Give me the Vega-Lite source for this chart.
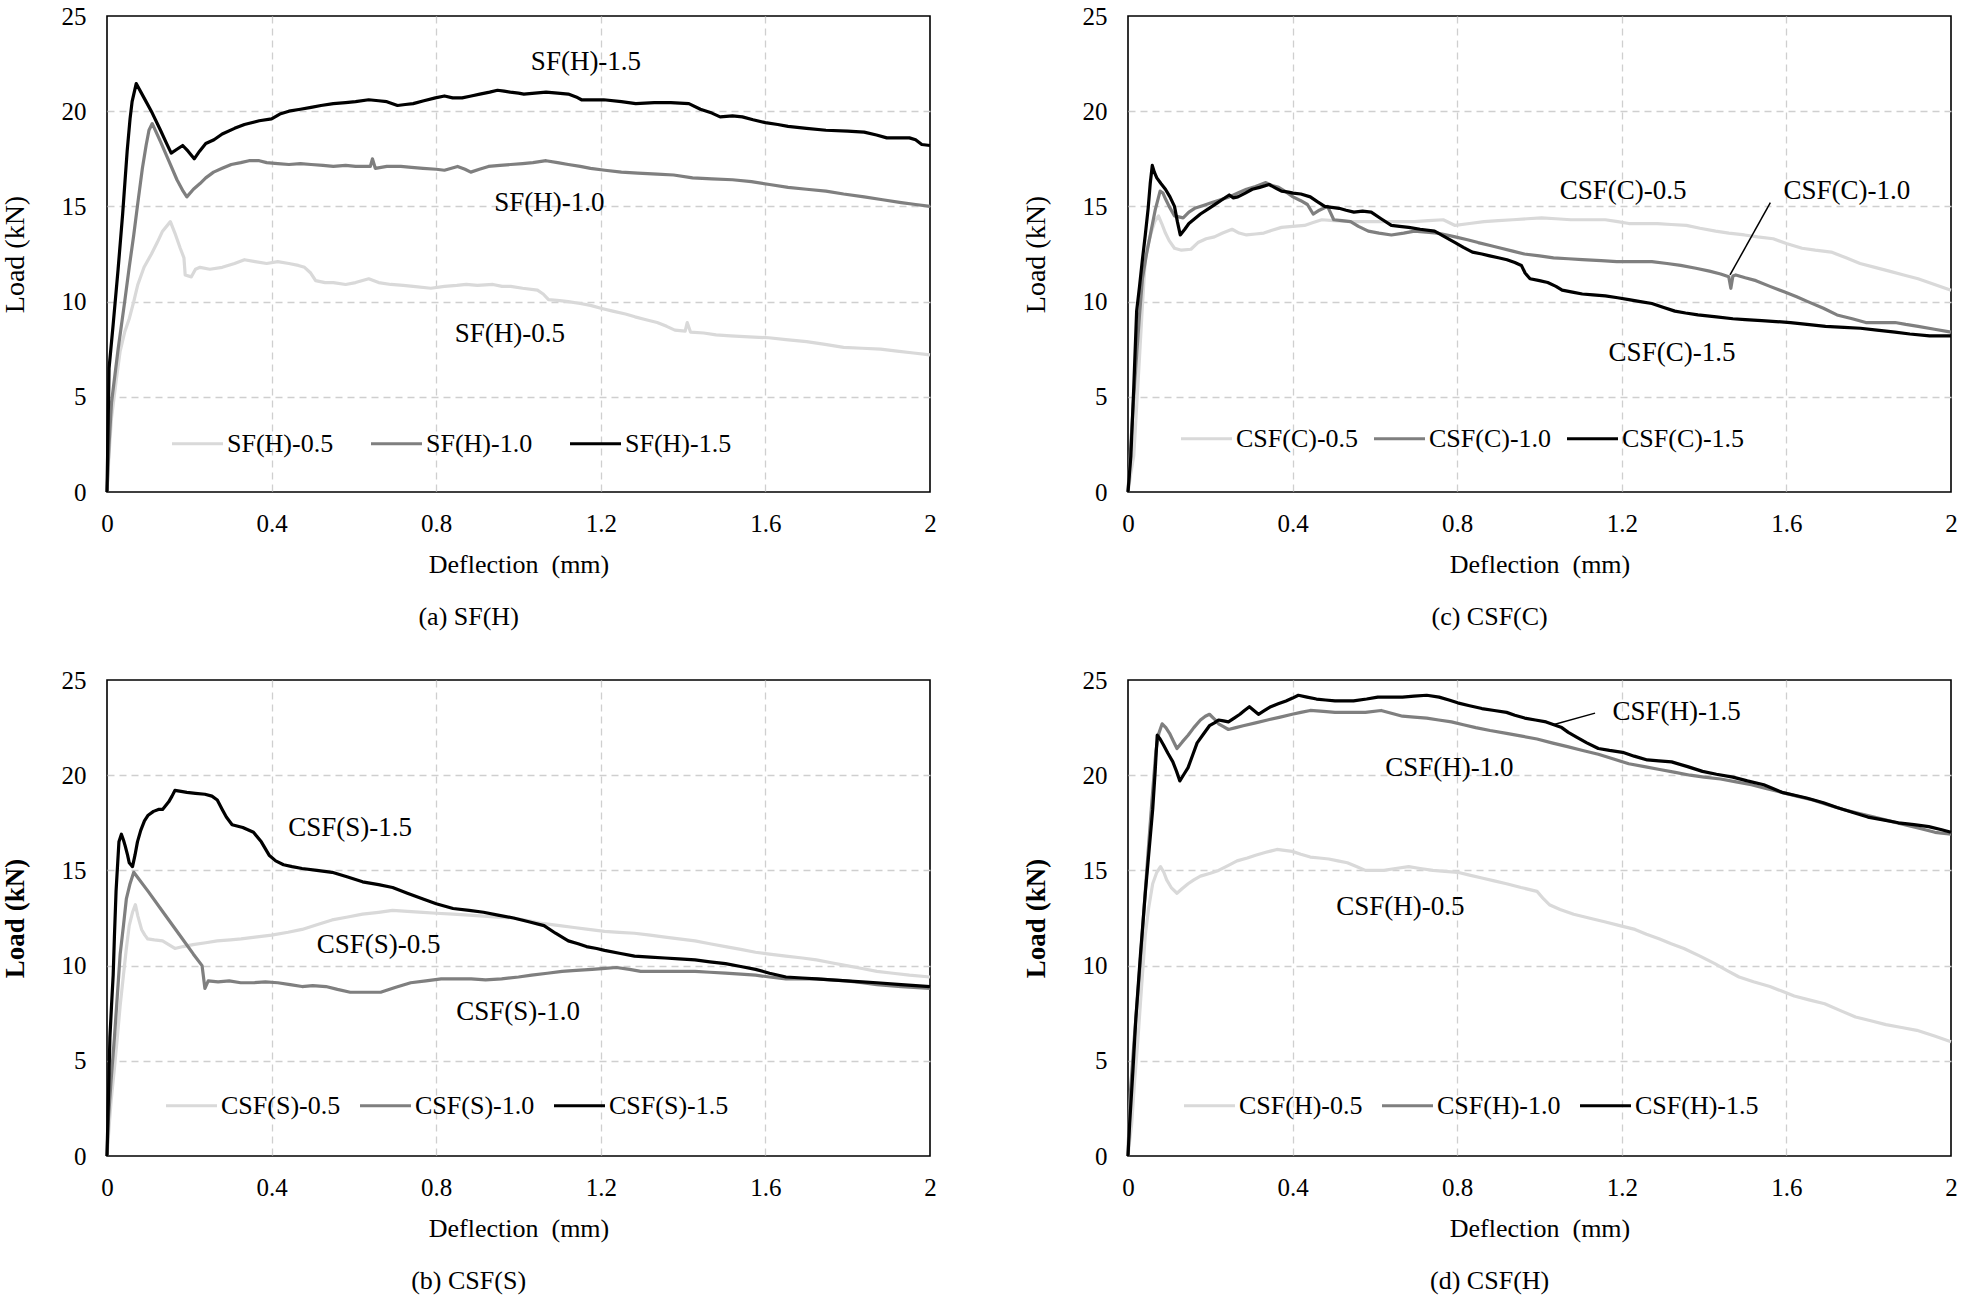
{
"$schema": "https://vega.github.io/schema/vega-lite/v6.json",
"background": "white",
"padding": {"left": 0, "top": 3, "right": 4, "bottom": 0},
"config": {
  "font": "Liberation Serif",
  "view": {"stroke": "#000000", "strokeWidth": 1.6},
  "axis": {"labelFont": "Liberation Serif", "labelFontSize": 25, "labelColor": "#000000", "labelFlush": false, "titleFont": "Liberation Serif", "titleFontSize": 26, "titleFontWeight": "normal", "titleColor": "#000000", "domain": false, "ticks": false, "tickSize": 0, "gridDash": [7, 5], "gridWidth": 1.3},
  "legend": {"orient": "none", "direction": "horizontal", "symbolType": "stroke", "symbolSize": 2600, "symbolStrokeWidth": 4, "labelFont": "Liberation Serif", "labelFontSize": 26, "labelColor": "#000000", "labelOffset": 2, "padding": 0, "offset": 0},
  "title": {"font": "Liberation Serif", "fontSize": 26, "fontWeight": "normal", "color": "#000000"}
},
"datasets": {
"a": [
{"s":"0.5","x":0,"y":0},{"s":"0.5","x":0.005,"y":2.0},{"s":"0.5","x":0.011,"y":3.9},{"s":"0.5","x":0.022,"y":5.8},{"s":"0.5","x":0.032,"y":7.4},{"s":"0.5","x":0.043,"y":8.4},{"s":"0.5","x":0.054,"y":9.1},{"s":"0.5","x":0.065,"y":10.0},{"s":"0.5","x":0.075,"y":10.9},{"s":"0.5","x":0.09,"y":11.8},{"s":"0.5","x":0.108,"y":12.5},{"s":"0.5","x":0.122,"y":13.1},{"s":"0.5","x":0.135,"y":13.7},{"s":"0.5","x":0.154,"y":14.2},{"s":"0.5","x":0.165,"y":13.6},{"s":"0.5","x":0.178,"y":12.8},{"s":"0.5","x":0.187,"y":12.3},{"s":"0.5","x":0.19,"y":11.4},{"s":"0.5","x":0.205,"y":11.3},{"s":"0.5","x":0.215,"y":11.7},{"s":"0.5","x":0.226,"y":11.8},{"s":"0.5","x":0.25,"y":11.7},{"s":"0.5","x":0.28,"y":11.8},{"s":"0.5","x":0.31,"y":12.0},{"s":"0.5","x":0.334,"y":12.2},{"s":"0.5","x":0.36,"y":12.1},{"s":"0.5","x":0.388,"y":12.0},{"s":"0.5","x":0.415,"y":12.1},{"s":"0.5","x":0.442,"y":12.0},{"s":"0.5","x":0.465,"y":11.9},{"s":"0.5","x":0.48,"y":11.8},{"s":"0.5","x":0.495,"y":11.5},{"s":"0.5","x":0.507,"y":11.1},{"s":"0.5","x":0.53,"y":11.0},{"s":"0.5","x":0.55,"y":11.0},{"s":"0.5","x":0.58,"y":10.9},{"s":"0.5","x":0.604,"y":11.0},{"s":"0.5","x":0.636,"y":11.2},{"s":"0.5","x":0.66,"y":11.0},{"s":"0.5","x":0.69,"y":10.9},{"s":"0.5","x":0.72,"y":10.85},{"s":"0.5","x":0.744,"y":10.8},{"s":"0.5","x":0.787,"y":10.7},{"s":"0.5","x":0.82,"y":10.8},{"s":"0.5","x":0.85,"y":10.85},{"s":"0.5","x":0.873,"y":10.9},{"s":"0.5","x":0.9,"y":10.85},{"s":"0.5","x":0.938,"y":10.9},{"s":"0.5","x":0.96,"y":10.8},{"s":"0.5","x":0.981,"y":10.8},{"s":"0.5","x":1.01,"y":10.7},{"s":"0.5","x":1.046,"y":10.6},{"s":"0.5","x":1.06,"y":10.4},{"s":"0.5","x":1.073,"y":10.1},{"s":"0.5","x":1.1,"y":10.05},{"s":"0.5","x":1.121,"y":10.0},{"s":"0.5","x":1.15,"y":9.9},{"s":"0.5","x":1.175,"y":9.8},{"s":"0.5","x":1.2,"y":9.65},{"s":"0.5","x":1.229,"y":9.5},{"s":"0.5","x":1.26,"y":9.35},{"s":"0.5","x":1.283,"y":9.2},{"s":"0.5","x":1.31,"y":9.05},{"s":"0.5","x":1.337,"y":8.9},{"s":"0.5","x":1.36,"y":8.7},{"s":"0.5","x":1.38,"y":8.5},{"s":"0.5","x":1.405,"y":8.45},{"s":"0.5","x":1.41,"y":8.9},{"s":"0.5","x":1.418,"y":8.4},{"s":"0.5","x":1.45,"y":8.35},{"s":"0.5","x":1.48,"y":8.25},{"s":"0.5","x":1.515,"y":8.2},{"s":"0.5","x":1.56,"y":8.15},{"s":"0.5","x":1.608,"y":8.1},{"s":"0.5","x":1.65,"y":8.0},{"s":"0.5","x":1.7,"y":7.9},{"s":"0.5","x":1.745,"y":7.75},{"s":"0.5","x":1.79,"y":7.6},{"s":"0.5","x":1.835,"y":7.55},{"s":"0.5","x":1.88,"y":7.5},{"s":"0.5","x":1.92,"y":7.4},{"s":"0.5","x":1.96,"y":7.3},{"s":"0.5","x":2.0,"y":7.2},
{"s":"1.0","x":0,"y":0},{"s":"1.0","x":0.005,"y":2.5},{"s":"1.0","x":0.011,"y":4.7},{"s":"1.0","x":0.027,"y":7.5},{"s":"1.0","x":0.043,"y":10.0},{"s":"1.0","x":0.054,"y":11.8},{"s":"1.0","x":0.065,"y":13.5},{"s":"1.0","x":0.075,"y":15.2},{"s":"1.0","x":0.086,"y":17.0},{"s":"1.0","x":0.095,"y":18.2},{"s":"1.0","x":0.102,"y":19.0},{"s":"1.0","x":0.11,"y":19.35},{"s":"1.0","x":0.13,"y":18.4},{"s":"1.0","x":0.15,"y":17.4},{"s":"1.0","x":0.17,"y":16.4},{"s":"1.0","x":0.185,"y":15.8},{"s":"1.0","x":0.194,"y":15.5},{"s":"1.0","x":0.21,"y":15.9},{"s":"1.0","x":0.226,"y":16.2},{"s":"1.0","x":0.24,"y":16.5},{"s":"1.0","x":0.259,"y":16.8},{"s":"1.0","x":0.28,"y":17.0},{"s":"1.0","x":0.302,"y":17.2},{"s":"1.0","x":0.325,"y":17.3},{"s":"1.0","x":0.345,"y":17.4},{"s":"1.0","x":0.37,"y":17.4},{"s":"1.0","x":0.388,"y":17.3},{"s":"1.0","x":0.415,"y":17.25},{"s":"1.0","x":0.442,"y":17.2},{"s":"1.0","x":0.47,"y":17.25},{"s":"1.0","x":0.496,"y":17.2},{"s":"1.0","x":0.525,"y":17.15},{"s":"1.0","x":0.55,"y":17.1},{"s":"1.0","x":0.58,"y":17.15},{"s":"1.0","x":0.604,"y":17.1},{"s":"1.0","x":0.64,"y":17.1},{"s":"1.0","x":0.645,"y":17.5},{"s":"1.0","x":0.652,"y":17.0},{"s":"1.0","x":0.68,"y":17.1},{"s":"1.0","x":0.714,"y":17.1},{"s":"1.0","x":0.74,"y":17.05},{"s":"1.0","x":0.768,"y":17.0},{"s":"1.0","x":0.8,"y":16.95},{"s":"1.0","x":0.82,"y":16.9},{"s":"1.0","x":0.852,"y":17.1},{"s":"1.0","x":0.87,"y":16.95},{"s":"1.0","x":0.884,"y":16.8},{"s":"1.0","x":0.905,"y":16.95},{"s":"1.0","x":0.927,"y":17.1},{"s":"1.0","x":0.955,"y":17.15},{"s":"1.0","x":0.981,"y":17.2},{"s":"1.0","x":1.01,"y":17.25},{"s":"1.0","x":1.035,"y":17.3},{"s":"1.0","x":1.067,"y":17.4},{"s":"1.0","x":1.095,"y":17.3},{"s":"1.0","x":1.121,"y":17.2},{"s":"1.0","x":1.15,"y":17.1},{"s":"1.0","x":1.175,"y":17.0},{"s":"1.0","x":1.21,"y":16.9},{"s":"1.0","x":1.25,"y":16.8},{"s":"1.0","x":1.29,"y":16.75},{"s":"1.0","x":1.337,"y":16.7},{"s":"1.0","x":1.377,"y":16.65},{"s":"1.0","x":1.423,"y":16.5},{"s":"1.0","x":1.47,"y":16.45},{"s":"1.0","x":1.52,"y":16.4},{"s":"1.0","x":1.566,"y":16.3},{"s":"1.0","x":1.61,"y":16.15},{"s":"1.0","x":1.655,"y":16.0},{"s":"1.0","x":1.7,"y":15.9},{"s":"1.0","x":1.747,"y":15.8},{"s":"1.0","x":1.79,"y":15.65},{"s":"1.0","x":1.84,"y":15.5},{"s":"1.0","x":1.885,"y":15.35},{"s":"1.0","x":1.93,"y":15.2},{"s":"1.0","x":1.965,"y":15.1},{"s":"1.0","x":2.0,"y":15.0},
{"s":"1.5","x":0,"y":0},{"s":"1.5","x":0.005,"y":6.5},{"s":"1.5","x":0.015,"y":8.8},{"s":"1.5","x":0.027,"y":11.7},{"s":"1.5","x":0.038,"y":14.6},{"s":"1.5","x":0.049,"y":17.9},{"s":"1.5","x":0.056,"y":19.6},{"s":"1.5","x":0.061,"y":20.5},{"s":"1.5","x":0.071,"y":21.45},{"s":"1.5","x":0.09,"y":20.7},{"s":"1.5","x":0.11,"y":19.9},{"s":"1.5","x":0.13,"y":19.0},{"s":"1.5","x":0.145,"y":18.3},{"s":"1.5","x":0.156,"y":17.8},{"s":"1.5","x":0.17,"y":18.0},{"s":"1.5","x":0.184,"y":18.2},{"s":"1.5","x":0.197,"y":17.9},{"s":"1.5","x":0.212,"y":17.5},{"s":"1.5","x":0.225,"y":17.9},{"s":"1.5","x":0.24,"y":18.3},{"s":"1.5","x":0.26,"y":18.5},{"s":"1.5","x":0.28,"y":18.8},{"s":"1.5","x":0.31,"y":19.1},{"s":"1.5","x":0.334,"y":19.3},{"s":"1.5","x":0.37,"y":19.5},{"s":"1.5","x":0.4,"y":19.6},{"s":"1.5","x":0.42,"y":19.85},{"s":"1.5","x":0.442,"y":20.0},{"s":"1.5","x":0.47,"y":20.1},{"s":"1.5","x":0.496,"y":20.2},{"s":"1.5","x":0.52,"y":20.3},{"s":"1.5","x":0.55,"y":20.4},{"s":"1.5","x":0.58,"y":20.45},{"s":"1.5","x":0.604,"y":20.5},{"s":"1.5","x":0.636,"y":20.6},{"s":"1.5","x":0.66,"y":20.55},{"s":"1.5","x":0.68,"y":20.5},{"s":"1.5","x":0.706,"y":20.3},{"s":"1.5","x":0.725,"y":20.35},{"s":"1.5","x":0.744,"y":20.4},{"s":"1.5","x":0.77,"y":20.55},{"s":"1.5","x":0.798,"y":20.7},{"s":"1.5","x":0.82,"y":20.8},{"s":"1.5","x":0.84,"y":20.7},{"s":"1.5","x":0.863,"y":20.7},{"s":"1.5","x":0.885,"y":20.8},{"s":"1.5","x":0.906,"y":20.9},{"s":"1.5","x":0.93,"y":21.0},{"s":"1.5","x":0.949,"y":21.1},{"s":"1.5","x":0.965,"y":21.05},{"s":"1.5","x":0.98,"y":21.0},{"s":"1.5","x":1.0,"y":20.95},{"s":"1.5","x":1.013,"y":20.9},{"s":"1.5","x":1.04,"y":20.95},{"s":"1.5","x":1.067,"y":21.0},{"s":"1.5","x":1.095,"y":20.95},{"s":"1.5","x":1.121,"y":20.9},{"s":"1.5","x":1.14,"y":20.75},{"s":"1.5","x":1.153,"y":20.6},{"s":"1.5","x":1.18,"y":20.6},{"s":"1.5","x":1.207,"y":20.6},{"s":"1.5","x":1.25,"y":20.5},{"s":"1.5","x":1.285,"y":20.4},{"s":"1.5","x":1.33,"y":20.45},{"s":"1.5","x":1.37,"y":20.45},{"s":"1.5","x":1.414,"y":20.4},{"s":"1.5","x":1.442,"y":20.1},{"s":"1.5","x":1.47,"y":19.9},{"s":"1.5","x":1.49,"y":19.7},{"s":"1.5","x":1.52,"y":19.75},{"s":"1.5","x":1.544,"y":19.7},{"s":"1.5","x":1.57,"y":19.55},{"s":"1.5","x":1.6,"y":19.4},{"s":"1.5","x":1.63,"y":19.3},{"s":"1.5","x":1.655,"y":19.2},{"s":"1.5","x":1.7,"y":19.1},{"s":"1.5","x":1.747,"y":19.0},{"s":"1.5","x":1.8,"y":18.95},{"s":"1.5","x":1.84,"y":18.9},{"s":"1.5","x":1.87,"y":18.75},{"s":"1.5","x":1.895,"y":18.6},{"s":"1.5","x":1.92,"y":18.6},{"s":"1.5","x":1.95,"y":18.6},{"s":"1.5","x":1.965,"y":18.5},{"s":"1.5","x":1.98,"y":18.25},{"s":"1.5","x":2.0,"y":18.2}
],
"c": [
{"s":"0.5","x":0,"y":0},{"s":"0.5","x":0.007,"y":1.0},{"s":"0.5","x":0.014,"y":1.9},{"s":"0.5","x":0.021,"y":4.5},{"s":"0.5","x":0.028,"y":7.1},{"s":"0.5","x":0.035,"y":9.8},{"s":"0.5","x":0.042,"y":12.2},{"s":"0.5","x":0.049,"y":13.0},{"s":"0.5","x":0.056,"y":13.6},{"s":"0.5","x":0.065,"y":14.2},{"s":"0.5","x":0.074,"y":14.5},{"s":"0.5","x":0.082,"y":14.1},{"s":"0.5","x":0.091,"y":13.6},{"s":"0.5","x":0.1,"y":13.2},{"s":"0.5","x":0.113,"y":12.8},{"s":"0.5","x":0.13,"y":12.7},{"s":"0.5","x":0.153,"y":12.75},{"s":"0.5","x":0.17,"y":13.1},{"s":"0.5","x":0.19,"y":13.3},{"s":"0.5","x":0.21,"y":13.4},{"s":"0.5","x":0.23,"y":13.6},{"s":"0.5","x":0.253,"y":13.8},{"s":"0.5","x":0.27,"y":13.6},{"s":"0.5","x":0.288,"y":13.5},{"s":"0.5","x":0.31,"y":13.55},{"s":"0.5","x":0.33,"y":13.6},{"s":"0.5","x":0.35,"y":13.75},{"s":"0.5","x":0.373,"y":13.9},{"s":"0.5","x":0.4,"y":13.95},{"s":"0.5","x":0.429,"y":14.0},{"s":"0.5","x":0.45,"y":14.15},{"s":"0.5","x":0.471,"y":14.3},{"s":"0.5","x":0.5,"y":14.25},{"s":"0.5","x":0.541,"y":14.2},{"s":"0.5","x":0.58,"y":14.2},{"s":"0.5","x":0.612,"y":14.2},{"s":"0.5","x":0.65,"y":14.2},{"s":"0.5","x":0.696,"y":14.2},{"s":"0.5","x":0.73,"y":14.25},{"s":"0.5","x":0.766,"y":14.3},{"s":"0.5","x":0.795,"y":14.0},{"s":"0.5","x":0.83,"y":14.1},{"s":"0.5","x":0.865,"y":14.2},{"s":"0.5","x":0.9,"y":14.25},{"s":"0.5","x":0.935,"y":14.3},{"s":"0.5","x":0.97,"y":14.35},{"s":"0.5","x":1.005,"y":14.4},{"s":"0.5","x":1.04,"y":14.35},{"s":"0.5","x":1.076,"y":14.3},{"s":"0.5","x":1.12,"y":14.3},{"s":"0.5","x":1.16,"y":14.3},{"s":"0.5","x":1.19,"y":14.2},{"s":"0.5","x":1.217,"y":14.1},{"s":"0.5","x":1.25,"y":14.1},{"s":"0.5","x":1.287,"y":14.1},{"s":"0.5","x":1.32,"y":14.05},{"s":"0.5","x":1.357,"y":14.0},{"s":"0.5","x":1.39,"y":13.85},{"s":"0.5","x":1.428,"y":13.7},{"s":"0.5","x":1.46,"y":13.6},{"s":"0.5","x":1.498,"y":13.5},{"s":"0.5","x":1.53,"y":13.4},{"s":"0.5","x":1.568,"y":13.3},{"s":"0.5","x":1.6,"y":13.05},{"s":"0.5","x":1.638,"y":12.8},{"s":"0.5","x":1.67,"y":12.7},{"s":"0.5","x":1.709,"y":12.6},{"s":"0.5","x":1.745,"y":12.3},{"s":"0.5","x":1.779,"y":12.0},{"s":"0.5","x":1.815,"y":11.8},{"s":"0.5","x":1.85,"y":11.6},{"s":"0.5","x":1.885,"y":11.4},{"s":"0.5","x":1.92,"y":11.2},{"s":"0.5","x":1.96,"y":10.9},{"s":"0.5","x":2.0,"y":10.6},
{"s":"1.0","x":0,"y":0},{"s":"1.0","x":0.007,"y":2.5},{"s":"1.0","x":0.014,"y":5.0},{"s":"1.0","x":0.021,"y":7.2},{"s":"1.0","x":0.028,"y":9.3},{"s":"1.0","x":0.035,"y":11.2},{"s":"1.0","x":0.045,"y":12.5},{"s":"1.0","x":0.056,"y":13.7},{"s":"1.0","x":0.066,"y":14.8},{"s":"1.0","x":0.078,"y":15.8},{"s":"1.0","x":0.085,"y":15.7},{"s":"1.0","x":0.091,"y":15.4},{"s":"1.0","x":0.1,"y":15.0},{"s":"1.0","x":0.113,"y":14.5},{"s":"1.0","x":0.134,"y":14.4},{"s":"1.0","x":0.148,"y":14.7},{"s":"1.0","x":0.162,"y":14.9},{"s":"1.0","x":0.183,"y":15.05},{"s":"1.0","x":0.204,"y":15.2},{"s":"1.0","x":0.225,"y":15.35},{"s":"1.0","x":0.246,"y":15.5},{"s":"1.0","x":0.267,"y":15.7},{"s":"1.0","x":0.288,"y":15.9},{"s":"1.0","x":0.31,"y":16.05},{"s":"1.0","x":0.335,"y":16.25},{"s":"1.0","x":0.35,"y":16.1},{"s":"1.0","x":0.366,"y":16.0},{"s":"1.0","x":0.385,"y":15.75},{"s":"1.0","x":0.401,"y":15.5},{"s":"1.0","x":0.42,"y":15.3},{"s":"1.0","x":0.436,"y":15.1},{"s":"1.0","x":0.45,"y":14.6},{"s":"1.0","x":0.465,"y":14.8},{"s":"1.0","x":0.485,"y":15.0},{"s":"1.0","x":0.5,"y":14.3},{"s":"1.0","x":0.52,"y":14.25},{"s":"1.0","x":0.541,"y":14.2},{"s":"1.0","x":0.56,"y":13.95},{"s":"1.0","x":0.584,"y":13.7},{"s":"1.0","x":0.61,"y":13.6},{"s":"1.0","x":0.64,"y":13.5},{"s":"1.0","x":0.67,"y":13.6},{"s":"1.0","x":0.696,"y":13.7},{"s":"1.0","x":0.725,"y":13.65},{"s":"1.0","x":0.752,"y":13.6},{"s":"1.0","x":0.775,"y":13.5},{"s":"1.0","x":0.795,"y":13.4},{"s":"1.0","x":0.825,"y":13.25},{"s":"1.0","x":0.851,"y":13.1},{"s":"1.0","x":0.88,"y":12.95},{"s":"1.0","x":0.907,"y":12.8},{"s":"1.0","x":0.935,"y":12.65},{"s":"1.0","x":0.963,"y":12.5},{"s":"1.0","x":1.0,"y":12.4},{"s":"1.0","x":1.034,"y":12.3},{"s":"1.0","x":1.07,"y":12.25},{"s":"1.0","x":1.104,"y":12.2},{"s":"1.0","x":1.15,"y":12.15},{"s":"1.0","x":1.188,"y":12.1},{"s":"1.0","x":1.23,"y":12.1},{"s":"1.0","x":1.273,"y":12.1},{"s":"1.0","x":1.31,"y":12.0},{"s":"1.0","x":1.343,"y":11.9},{"s":"1.0","x":1.38,"y":11.75},{"s":"1.0","x":1.413,"y":11.6},{"s":"1.0","x":1.44,"y":11.45},{"s":"1.0","x":1.46,"y":11.3},{"s":"1.0","x":1.465,"y":10.7},{"s":"1.0","x":1.47,"y":11.35},{"s":"1.0","x":1.477,"y":11.4},{"s":"1.0","x":1.5,"y":11.25},{"s":"1.0","x":1.526,"y":11.1},{"s":"1.0","x":1.56,"y":10.8},{"s":"1.0","x":1.596,"y":10.5},{"s":"1.0","x":1.625,"y":10.25},{"s":"1.0","x":1.652,"y":10.0},{"s":"1.0","x":1.69,"y":9.65},{"s":"1.0","x":1.723,"y":9.3},{"s":"1.0","x":1.76,"y":9.1},{"s":"1.0","x":1.793,"y":8.9},{"s":"1.0","x":1.83,"y":8.9},{"s":"1.0","x":1.864,"y":8.9},{"s":"1.0","x":1.89,"y":8.8},{"s":"1.0","x":1.92,"y":8.7},{"s":"1.0","x":1.96,"y":8.55},{"s":"1.0","x":2.0,"y":8.4},
{"s":"1.5","x":0,"y":0},{"s":"1.5","x":0.007,"y":1.9},{"s":"1.5","x":0.014,"y":5.5},{"s":"1.5","x":0.021,"y":9.5},{"s":"1.5","x":0.028,"y":10.8},{"s":"1.5","x":0.035,"y":12.2},{"s":"1.5","x":0.042,"y":13.5},{"s":"1.5","x":0.049,"y":14.9},{"s":"1.5","x":0.054,"y":16.2},{"s":"1.5","x":0.059,"y":17.15},{"s":"1.5","x":0.064,"y":16.8},{"s":"1.5","x":0.07,"y":16.5},{"s":"1.5","x":0.08,"y":16.2},{"s":"1.5","x":0.091,"y":15.9},{"s":"1.5","x":0.102,"y":15.5},{"s":"1.5","x":0.113,"y":15.0},{"s":"1.5","x":0.12,"y":14.2},{"s":"1.5","x":0.127,"y":13.5},{"s":"1.5","x":0.138,"y":13.8},{"s":"1.5","x":0.148,"y":14.1},{"s":"1.5","x":0.162,"y":14.35},{"s":"1.5","x":0.176,"y":14.6},{"s":"1.5","x":0.197,"y":14.9},{"s":"1.5","x":0.218,"y":15.2},{"s":"1.5","x":0.232,"y":15.4},{"s":"1.5","x":0.246,"y":15.6},{"s":"1.5","x":0.256,"y":15.45},{"s":"1.5","x":0.267,"y":15.5},{"s":"1.5","x":0.285,"y":15.7},{"s":"1.5","x":0.302,"y":15.9},{"s":"1.5","x":0.32,"y":16.0},{"s":"1.5","x":0.343,"y":16.15},{"s":"1.5","x":0.36,"y":15.95},{"s":"1.5","x":0.373,"y":15.8},{"s":"1.5","x":0.39,"y":15.75},{"s":"1.5","x":0.401,"y":15.7},{"s":"1.5","x":0.42,"y":15.65},{"s":"1.5","x":0.443,"y":15.5},{"s":"1.5","x":0.46,"y":15.25},{"s":"1.5","x":0.478,"y":15.0},{"s":"1.5","x":0.495,"y":14.95},{"s":"1.5","x":0.513,"y":14.9},{"s":"1.5","x":0.53,"y":14.8},{"s":"1.5","x":0.549,"y":14.7},{"s":"1.5","x":0.57,"y":14.75},{"s":"1.5","x":0.591,"y":14.7},{"s":"1.5","x":0.615,"y":14.35},{"s":"1.5","x":0.64,"y":14.0},{"s":"1.5","x":0.66,"y":13.95},{"s":"1.5","x":0.682,"y":13.9},{"s":"1.5","x":0.71,"y":13.8},{"s":"1.5","x":0.745,"y":13.7},{"s":"1.5","x":0.77,"y":13.4},{"s":"1.5","x":0.795,"y":13.1},{"s":"1.5","x":0.815,"y":12.85},{"s":"1.5","x":0.837,"y":12.6},{"s":"1.5","x":0.86,"y":12.5},{"s":"1.5","x":0.879,"y":12.4},{"s":"1.5","x":0.9,"y":12.3},{"s":"1.5","x":0.921,"y":12.2},{"s":"1.5","x":0.94,"y":12.05},{"s":"1.5","x":0.956,"y":11.9},{"s":"1.5","x":0.965,"y":11.5},{"s":"1.5","x":0.977,"y":11.2},{"s":"1.5","x":1.0,"y":11.1},{"s":"1.5","x":1.02,"y":11.0},{"s":"1.5","x":1.04,"y":10.8},{"s":"1.5","x":1.055,"y":10.6},{"s":"1.5","x":1.08,"y":10.5},{"s":"1.5","x":1.104,"y":10.4},{"s":"1.5","x":1.13,"y":10.35},{"s":"1.5","x":1.16,"y":10.3},{"s":"1.5","x":1.19,"y":10.2},{"s":"1.5","x":1.217,"y":10.1},{"s":"1.5","x":1.245,"y":10.0},{"s":"1.5","x":1.273,"y":9.9},{"s":"1.5","x":1.3,"y":9.7},{"s":"1.5","x":1.329,"y":9.5},{"s":"1.5","x":1.355,"y":9.4},{"s":"1.5","x":1.385,"y":9.3},{"s":"1.5","x":1.43,"y":9.2},{"s":"1.5","x":1.47,"y":9.1},{"s":"1.5","x":1.5,"y":9.05},{"s":"1.5","x":1.54,"y":9.0},{"s":"1.5","x":1.575,"y":8.95},{"s":"1.5","x":1.61,"y":8.9},{"s":"1.5","x":1.65,"y":8.8},{"s":"1.5","x":1.695,"y":8.7},{"s":"1.5","x":1.74,"y":8.65},{"s":"1.5","x":1.78,"y":8.6},{"s":"1.5","x":1.82,"y":8.5},{"s":"1.5","x":1.864,"y":8.4},{"s":"1.5","x":1.9,"y":8.3},{"s":"1.5","x":1.948,"y":8.2},{"s":"1.5","x":2.0,"y":8.2}
],
"b": [
{"s":"0.5","x":0,"y":0},{"s":"0.5","x":0.005,"y":1.5},{"s":"0.5","x":0.01,"y":2.9},{"s":"0.5","x":0.018,"y":4.6},{"s":"0.5","x":0.025,"y":6.2},{"s":"0.5","x":0.032,"y":7.9},{"s":"0.5","x":0.04,"y":9.5},{"s":"0.5","x":0.047,"y":10.9},{"s":"0.5","x":0.054,"y":12.1},{"s":"0.5","x":0.062,"y":12.8},{"s":"0.5","x":0.069,"y":13.2},{"s":"0.5","x":0.075,"y":12.6},{"s":"0.5","x":0.084,"y":11.9},{"s":"0.5","x":0.092,"y":11.6},{"s":"0.5","x":0.099,"y":11.4},{"s":"0.5","x":0.115,"y":11.35},{"s":"0.5","x":0.135,"y":11.3},{"s":"0.5","x":0.15,"y":11.1},{"s":"0.5","x":0.165,"y":10.9},{"s":"0.5","x":0.185,"y":11.0},{"s":"0.5","x":0.209,"y":11.1},{"s":"0.5","x":0.24,"y":11.2},{"s":"0.5","x":0.268,"y":11.3},{"s":"0.5","x":0.3,"y":11.35},{"s":"0.5","x":0.326,"y":11.4},{"s":"0.5","x":0.36,"y":11.5},{"s":"0.5","x":0.4,"y":11.6},{"s":"0.5","x":0.44,"y":11.75},{"s":"0.5","x":0.474,"y":11.9},{"s":"0.5","x":0.51,"y":12.15},{"s":"0.5","x":0.547,"y":12.4},{"s":"0.5","x":0.585,"y":12.55},{"s":"0.5","x":0.621,"y":12.7},{"s":"0.5","x":0.66,"y":12.8},{"s":"0.5","x":0.694,"y":12.9},{"s":"0.5","x":0.73,"y":12.85},{"s":"0.5","x":0.768,"y":12.8},{"s":"0.5","x":0.8,"y":12.75},{"s":"0.5","x":0.841,"y":12.7},{"s":"0.5","x":0.88,"y":12.65},{"s":"0.5","x":0.915,"y":12.6},{"s":"0.5","x":0.95,"y":12.55},{"s":"0.5","x":0.988,"y":12.5},{"s":"0.5","x":1.025,"y":12.35},{"s":"0.5","x":1.062,"y":12.2},{"s":"0.5","x":1.1,"y":12.1},{"s":"0.5","x":1.135,"y":12.0},{"s":"0.5","x":1.17,"y":11.9},{"s":"0.5","x":1.209,"y":11.8},{"s":"0.5","x":1.245,"y":11.75},{"s":"0.5","x":1.282,"y":11.7},{"s":"0.5","x":1.32,"y":11.6},{"s":"0.5","x":1.356,"y":11.5},{"s":"0.5","x":1.39,"y":11.4},{"s":"0.5","x":1.429,"y":11.3},{"s":"0.5","x":1.465,"y":11.15},{"s":"0.5","x":1.503,"y":11.0},{"s":"0.5","x":1.54,"y":10.85},{"s":"0.5","x":1.576,"y":10.7},{"s":"0.5","x":1.61,"y":10.6},{"s":"0.5","x":1.65,"y":10.5},{"s":"0.5","x":1.69,"y":10.4},{"s":"0.5","x":1.724,"y":10.3},{"s":"0.5","x":1.76,"y":10.15},{"s":"0.5","x":1.797,"y":10.0},{"s":"0.5","x":1.835,"y":9.85},{"s":"0.5","x":1.871,"y":9.7},{"s":"0.5","x":1.91,"y":9.6},{"s":"0.5","x":1.95,"y":9.5},{"s":"0.5","x":2.0,"y":9.4},
{"s":"1.0","x":0,"y":0},{"s":"1.0","x":0.003,"y":1.8},{"s":"1.0","x":0.01,"y":4.0},{"s":"1.0","x":0.018,"y":6.2},{"s":"1.0","x":0.025,"y":8.4},{"s":"1.0","x":0.032,"y":10.6},{"s":"1.0","x":0.04,"y":12.1},{"s":"1.0","x":0.047,"y":13.5},{"s":"1.0","x":0.056,"y":14.3},{"s":"1.0","x":0.065,"y":14.9},{"s":"1.0","x":0.1,"y":13.9},{"s":"1.0","x":0.14,"y":12.7},{"s":"1.0","x":0.18,"y":11.5},{"s":"1.0","x":0.21,"y":10.6},{"s":"1.0","x":0.231,"y":10.0},{"s":"1.0","x":0.238,"y":8.8},{"s":"1.0","x":0.246,"y":9.2},{"s":"1.0","x":0.27,"y":9.15},{"s":"1.0","x":0.297,"y":9.2},{"s":"1.0","x":0.325,"y":9.1},{"s":"1.0","x":0.356,"y":9.1},{"s":"1.0","x":0.385,"y":9.15},{"s":"1.0","x":0.415,"y":9.1},{"s":"1.0","x":0.445,"y":9.0},{"s":"1.0","x":0.474,"y":8.9},{"s":"1.0","x":0.5,"y":8.95},{"s":"1.0","x":0.532,"y":8.9},{"s":"1.0","x":0.56,"y":8.75},{"s":"1.0","x":0.591,"y":8.6},{"s":"1.0","x":0.63,"y":8.6},{"s":"1.0","x":0.665,"y":8.6},{"s":"1.0","x":0.7,"y":8.85},{"s":"1.0","x":0.738,"y":9.1},{"s":"1.0","x":0.775,"y":9.2},{"s":"1.0","x":0.812,"y":9.3},{"s":"1.0","x":0.85,"y":9.3},{"s":"1.0","x":0.885,"y":9.3},{"s":"1.0","x":0.92,"y":9.25},{"s":"1.0","x":0.959,"y":9.3},{"s":"1.0","x":1.0,"y":9.4},{"s":"1.0","x":1.032,"y":9.5},{"s":"1.0","x":1.07,"y":9.6},{"s":"1.0","x":1.106,"y":9.7},{"s":"1.0","x":1.14,"y":9.75},{"s":"1.0","x":1.179,"y":9.8},{"s":"1.0","x":1.21,"y":9.85},{"s":"1.0","x":1.238,"y":9.9},{"s":"1.0","x":1.27,"y":9.8},{"s":"1.0","x":1.297,"y":9.7},{"s":"1.0","x":1.33,"y":9.7},{"s":"1.0","x":1.356,"y":9.7},{"s":"1.0","x":1.39,"y":9.7},{"s":"1.0","x":1.429,"y":9.7},{"s":"1.0","x":1.465,"y":9.65},{"s":"1.0","x":1.503,"y":9.6},{"s":"1.0","x":1.54,"y":9.55},{"s":"1.0","x":1.576,"y":9.5},{"s":"1.0","x":1.61,"y":9.4},{"s":"1.0","x":1.65,"y":9.3},{"s":"1.0","x":1.69,"y":9.3},{"s":"1.0","x":1.724,"y":9.3},{"s":"1.0","x":1.76,"y":9.25},{"s":"1.0","x":1.797,"y":9.2},{"s":"1.0","x":1.835,"y":9.1},{"s":"1.0","x":1.871,"y":9.0},{"s":"1.0","x":1.93,"y":8.9},{"s":"1.0","x":2.0,"y":8.8},
{"s":"1.5","x":0,"y":0},{"s":"1.5","x":0.004,"y":3.5},{"s":"1.5","x":0.007,"y":6.2},{"s":"1.5","x":0.011,"y":7.9},{"s":"1.5","x":0.015,"y":9.5},{"s":"1.5","x":0.018,"y":11.5},{"s":"1.5","x":0.022,"y":13.9},{"s":"1.5","x":0.026,"y":15.4},{"s":"1.5","x":0.029,"y":16.5},{"s":"1.5","x":0.035,"y":16.9},{"s":"1.5","x":0.04,"y":16.6},{"s":"1.5","x":0.044,"y":16.3},{"s":"1.5","x":0.05,"y":15.8},{"s":"1.5","x":0.054,"y":15.4},{"s":"1.5","x":0.062,"y":15.2},{"s":"1.5","x":0.068,"y":15.8},{"s":"1.5","x":0.074,"y":16.5},{"s":"1.5","x":0.082,"y":17.1},{"s":"1.5","x":0.091,"y":17.6},{"s":"1.5","x":0.1,"y":17.9},{"s":"1.5","x":0.113,"y":18.1},{"s":"1.5","x":0.125,"y":18.2},{"s":"1.5","x":0.135,"y":18.2},{"s":"1.5","x":0.15,"y":18.6},{"s":"1.5","x":0.158,"y":18.9},{"s":"1.5","x":0.165,"y":19.2},{"s":"1.5","x":0.18,"y":19.15},{"s":"1.5","x":0.194,"y":19.1},{"s":"1.5","x":0.215,"y":19.05},{"s":"1.5","x":0.238,"y":19.0},{"s":"1.5","x":0.255,"y":18.9},{"s":"1.5","x":0.268,"y":18.7},{"s":"1.5","x":0.28,"y":18.2},{"s":"1.5","x":0.29,"y":17.8},{"s":"1.5","x":0.304,"y":17.4},{"s":"1.5","x":0.33,"y":17.25},{"s":"1.5","x":0.356,"y":17.0},{"s":"1.5","x":0.375,"y":16.5},{"s":"1.5","x":0.394,"y":15.8},{"s":"1.5","x":0.41,"y":15.5},{"s":"1.5","x":0.429,"y":15.3},{"s":"1.5","x":0.45,"y":15.2},{"s":"1.5","x":0.474,"y":15.1},{"s":"1.5","x":0.51,"y":15.0},{"s":"1.5","x":0.547,"y":14.9},{"s":"1.5","x":0.585,"y":14.65},{"s":"1.5","x":0.621,"y":14.4},{"s":"1.5","x":0.66,"y":14.25},{"s":"1.5","x":0.694,"y":14.1},{"s":"1.5","x":0.73,"y":13.8},{"s":"1.5","x":0.768,"y":13.5},{"s":"1.5","x":0.8,"y":13.25},{"s":"1.5","x":0.841,"y":13.0},{"s":"1.5","x":0.88,"y":12.9},{"s":"1.5","x":0.915,"y":12.8},{"s":"1.5","x":0.95,"y":12.65},{"s":"1.5","x":0.988,"y":12.5},{"s":"1.5","x":1.025,"y":12.3},{"s":"1.5","x":1.062,"y":12.1},{"s":"1.5","x":1.09,"y":11.7},{"s":"1.5","x":1.121,"y":11.3},{"s":"1.5","x":1.145,"y":11.15},{"s":"1.5","x":1.165,"y":11.0},{"s":"1.5","x":1.19,"y":10.9},{"s":"1.5","x":1.209,"y":10.8},{"s":"1.5","x":1.245,"y":10.65},{"s":"1.5","x":1.282,"y":10.5},{"s":"1.5","x":1.32,"y":10.45},{"s":"1.5","x":1.356,"y":10.4},{"s":"1.5","x":1.39,"y":10.35},{"s":"1.5","x":1.429,"y":10.3},{"s":"1.5","x":1.465,"y":10.2},{"s":"1.5","x":1.503,"y":10.1},{"s":"1.5","x":1.54,"y":9.95},{"s":"1.5","x":1.576,"y":9.8},{"s":"1.5","x":1.61,"y":9.6},{"s":"1.5","x":1.65,"y":9.4},{"s":"1.5","x":1.69,"y":9.35},{"s":"1.5","x":1.724,"y":9.3},{"s":"1.5","x":1.76,"y":9.25},{"s":"1.5","x":1.797,"y":9.2},{"s":"1.5","x":1.835,"y":9.15},{"s":"1.5","x":1.871,"y":9.1},{"s":"1.5","x":1.93,"y":9.0},{"s":"1.5","x":2.0,"y":8.9}
],
"d": [
{"s":"0.5","x":0,"y":0},{"s":"0.5","x":0.004,"y":0.8},{"s":"0.5","x":0.009,"y":1.7},{"s":"0.5","x":0.016,"y":3.9},{"s":"0.5","x":0.024,"y":6.1},{"s":"0.5","x":0.033,"y":8.9},{"s":"0.5","x":0.042,"y":11.6},{"s":"0.5","x":0.05,"y":13.0},{"s":"0.5","x":0.06,"y":14.3},{"s":"0.5","x":0.07,"y":14.9},{"s":"0.5","x":0.079,"y":15.2},{"s":"0.5","x":0.087,"y":14.9},{"s":"0.5","x":0.094,"y":14.5},{"s":"0.5","x":0.105,"y":14.1},{"s":"0.5","x":0.119,"y":13.8},{"s":"0.5","x":0.132,"y":14.05},{"s":"0.5","x":0.146,"y":14.3},{"s":"0.5","x":0.16,"y":14.5},{"s":"0.5","x":0.176,"y":14.7},{"s":"0.5","x":0.2,"y":14.85},{"s":"0.5","x":0.22,"y":15.0},{"s":"0.5","x":0.243,"y":15.25},{"s":"0.5","x":0.265,"y":15.5},{"s":"0.5","x":0.29,"y":15.65},{"s":"0.5","x":0.31,"y":15.8},{"s":"0.5","x":0.335,"y":15.95},{"s":"0.5","x":0.362,"y":16.1},{"s":"0.5","x":0.38,"y":16.05},{"s":"0.5","x":0.399,"y":16.0},{"s":"0.5","x":0.42,"y":15.85},{"s":"0.5","x":0.443,"y":15.7},{"s":"0.5","x":0.465,"y":15.65},{"s":"0.5","x":0.488,"y":15.6},{"s":"0.5","x":0.51,"y":15.5},{"s":"0.5","x":0.533,"y":15.4},{"s":"0.5","x":0.555,"y":15.2},{"s":"0.5","x":0.577,"y":15.0},{"s":"0.5","x":0.6,"y":15.0},{"s":"0.5","x":0.622,"y":15.0},{"s":"0.5","x":0.65,"y":15.1},{"s":"0.5","x":0.682,"y":15.2},{"s":"0.5","x":0.71,"y":15.1},{"s":"0.5","x":0.741,"y":15.0},{"s":"0.5","x":0.77,"y":14.95},{"s":"0.5","x":0.801,"y":14.9},{"s":"0.5","x":0.83,"y":14.75},{"s":"0.5","x":0.86,"y":14.6},{"s":"0.5","x":0.89,"y":14.45},{"s":"0.5","x":0.92,"y":14.3},{"s":"0.5","x":0.955,"y":14.1},{"s":"0.5","x":0.994,"y":13.9},{"s":"0.5","x":1.01,"y":13.5},{"s":"0.5","x":1.024,"y":13.2},{"s":"0.5","x":1.05,"y":12.95},{"s":"0.5","x":1.083,"y":12.7},{"s":"0.5","x":1.12,"y":12.5},{"s":"0.5","x":1.158,"y":12.3},{"s":"0.5","x":1.195,"y":12.1},{"s":"0.5","x":1.232,"y":11.9},{"s":"0.5","x":1.26,"y":11.65},{"s":"0.5","x":1.292,"y":11.4},{"s":"0.5","x":1.32,"y":11.15},{"s":"0.5","x":1.351,"y":10.9},{"s":"0.5","x":1.39,"y":10.5},{"s":"0.5","x":1.426,"y":10.1},{"s":"0.5","x":1.455,"y":9.75},{"s":"0.5","x":1.485,"y":9.4},{"s":"0.5","x":1.52,"y":9.15},{"s":"0.5","x":1.56,"y":8.9},{"s":"0.5","x":1.59,"y":8.65},{"s":"0.5","x":1.619,"y":8.4},{"s":"0.5","x":1.655,"y":8.2},{"s":"0.5","x":1.693,"y":8.0},{"s":"0.5","x":1.73,"y":7.65},{"s":"0.5","x":1.768,"y":7.3},{"s":"0.5","x":1.805,"y":7.1},{"s":"0.5","x":1.842,"y":6.9},{"s":"0.5","x":1.88,"y":6.75},{"s":"0.5","x":1.917,"y":6.6},{"s":"0.5","x":1.96,"y":6.3},{"s":"0.5","x":2.0,"y":6.0},
{"s":"1.0","x":0,"y":0},{"s":"1.0","x":0.004,"y":2.8},{"s":"1.0","x":0.015,"y":6.1},{"s":"1.0","x":0.027,"y":9.4},{"s":"1.0","x":0.038,"y":12.7},{"s":"1.0","x":0.049,"y":16.0},{"s":"1.0","x":0.058,"y":18.6},{"s":"1.0","x":0.068,"y":21.3},{"s":"1.0","x":0.075,"y":22.2},{"s":"1.0","x":0.083,"y":22.7},{"s":"1.0","x":0.092,"y":22.5},{"s":"1.0","x":0.101,"y":22.2},{"s":"1.0","x":0.11,"y":21.8},{"s":"1.0","x":0.119,"y":21.4},{"s":"1.0","x":0.132,"y":21.75},{"s":"1.0","x":0.146,"y":22.1},{"s":"1.0","x":0.16,"y":22.5},{"s":"1.0","x":0.176,"y":22.9},{"s":"1.0","x":0.188,"y":23.1},{"s":"1.0","x":0.198,"y":23.2},{"s":"1.0","x":0.21,"y":22.95},{"s":"1.0","x":0.22,"y":22.7},{"s":"1.0","x":0.232,"y":22.55},{"s":"1.0","x":0.244,"y":22.4},{"s":"1.0","x":0.262,"y":22.5},{"s":"1.0","x":0.28,"y":22.6},{"s":"1.0","x":0.31,"y":22.75},{"s":"1.0","x":0.339,"y":22.9},{"s":"1.0","x":0.37,"y":23.05},{"s":"1.0","x":0.399,"y":23.2},{"s":"1.0","x":0.42,"y":23.3},{"s":"1.0","x":0.443,"y":23.4},{"s":"1.0","x":0.475,"y":23.35},{"s":"1.0","x":0.503,"y":23.3},{"s":"1.0","x":0.54,"y":23.3},{"s":"1.0","x":0.577,"y":23.3},{"s":"1.0","x":0.615,"y":23.4},{"s":"1.0","x":0.64,"y":23.25},{"s":"1.0","x":0.667,"y":23.1},{"s":"1.0","x":0.695,"y":23.05},{"s":"1.0","x":0.726,"y":23.0},{"s":"1.0","x":0.755,"y":22.9},{"s":"1.0","x":0.786,"y":22.8},{"s":"1.0","x":0.815,"y":22.65},{"s":"1.0","x":0.845,"y":22.5},{"s":"1.0","x":0.88,"y":22.35},{"s":"1.0","x":0.92,"y":22.2},{"s":"1.0","x":0.957,"y":22.05},{"s":"1.0","x":0.994,"y":21.9},{"s":"1.0","x":1.03,"y":21.7},{"s":"1.0","x":1.068,"y":21.5},{"s":"1.0","x":1.105,"y":21.3},{"s":"1.0","x":1.143,"y":21.1},{"s":"1.0","x":1.18,"y":20.85},{"s":"1.0","x":1.217,"y":20.6},{"s":"1.0","x":1.255,"y":20.45},{"s":"1.0","x":1.292,"y":20.3},{"s":"1.0","x":1.33,"y":20.15},{"s":"1.0","x":1.366,"y":20.0},{"s":"1.0","x":1.4,"y":19.9},{"s":"1.0","x":1.44,"y":19.8},{"s":"1.0","x":1.478,"y":19.65},{"s":"1.0","x":1.515,"y":19.5},{"s":"1.0","x":1.55,"y":19.3},{"s":"1.0","x":1.589,"y":19.1},{"s":"1.0","x":1.625,"y":18.9},{"s":"1.0","x":1.664,"y":18.7},{"s":"1.0","x":1.7,"y":18.45},{"s":"1.0","x":1.738,"y":18.2},{"s":"1.0","x":1.775,"y":18.0},{"s":"1.0","x":1.813,"y":17.8},{"s":"1.0","x":1.85,"y":17.6},{"s":"1.0","x":1.887,"y":17.4},{"s":"1.0","x":1.925,"y":17.2},{"s":"1.0","x":1.961,"y":17.0},{"s":"1.0","x":2.0,"y":16.9},
{"s":"1.5","x":0,"y":0},{"s":"1.5","x":0.004,"y":1.7},{"s":"1.5","x":0.012,"y":4.5},{"s":"1.5","x":0.019,"y":7.2},{"s":"1.5","x":0.03,"y":10.5},{"s":"1.5","x":0.042,"y":13.8},{"s":"1.5","x":0.051,"y":16.0},{"s":"1.5","x":0.06,"y":18.2},{"s":"1.5","x":0.066,"y":20.2},{"s":"1.5","x":0.071,"y":22.1},{"s":"1.5","x":0.078,"y":21.9},{"s":"1.5","x":0.086,"y":21.6},{"s":"1.5","x":0.097,"y":21.15},{"s":"1.5","x":0.109,"y":20.7},{"s":"1.5","x":0.118,"y":20.2},{"s":"1.5","x":0.126,"y":19.7},{"s":"1.5","x":0.136,"y":20.05},{"s":"1.5","x":0.146,"y":20.4},{"s":"1.5","x":0.157,"y":21.05},{"s":"1.5","x":0.168,"y":21.7},{"s":"1.5","x":0.183,"y":22.15},{"s":"1.5","x":0.198,"y":22.6},{"s":"1.5","x":0.21,"y":22.75},{"s":"1.5","x":0.22,"y":22.9},{"s":"1.5","x":0.232,"y":22.85},{"s":"1.5","x":0.244,"y":22.8},{"s":"1.5","x":0.258,"y":23.0},{"s":"1.5","x":0.272,"y":23.2},{"s":"1.5","x":0.283,"y":23.4},{"s":"1.5","x":0.295,"y":23.6},{"s":"1.5","x":0.306,"y":23.4},{"s":"1.5","x":0.317,"y":23.2},{"s":"1.5","x":0.332,"y":23.4},{"s":"1.5","x":0.347,"y":23.6},{"s":"1.5","x":0.365,"y":23.75},{"s":"1.5","x":0.384,"y":23.9},{"s":"1.5","x":0.4,"y":24.05},{"s":"1.5","x":0.414,"y":24.2},{"s":"1.5","x":0.435,"y":24.1},{"s":"1.5","x":0.458,"y":24.0},{"s":"1.5","x":0.48,"y":23.95},{"s":"1.5","x":0.503,"y":23.9},{"s":"1.5","x":0.525,"y":23.9},{"s":"1.5","x":0.548,"y":23.9},{"s":"1.5","x":0.58,"y":24.0},{"s":"1.5","x":0.607,"y":24.1},{"s":"1.5","x":0.635,"y":24.1},{"s":"1.5","x":0.667,"y":24.1},{"s":"1.5","x":0.695,"y":24.15},{"s":"1.5","x":0.726,"y":24.2},{"s":"1.5","x":0.756,"y":24.1},{"s":"1.5","x":0.78,"y":23.95},{"s":"1.5","x":0.801,"y":23.8},{"s":"1.5","x":0.83,"y":23.65},{"s":"1.5","x":0.86,"y":23.5},{"s":"1.5","x":0.89,"y":23.4},{"s":"1.5","x":0.92,"y":23.3},{"s":"1.5","x":0.94,"y":23.15},{"s":"1.5","x":0.964,"y":23.0},{"s":"1.5","x":0.99,"y":22.9},{"s":"1.5","x":1.016,"y":22.8},{"s":"1.5","x":1.035,"y":22.65},{"s":"1.5","x":1.054,"y":22.5},{"s":"1.5","x":1.07,"y":22.25},{"s":"1.5","x":1.09,"y":22.0},{"s":"1.5","x":1.115,"y":21.7},{"s":"1.5","x":1.143,"y":21.4},{"s":"1.5","x":1.17,"y":21.3},{"s":"1.5","x":1.202,"y":21.2},{"s":"1.5","x":1.23,"y":21.0},{"s":"1.5","x":1.262,"y":20.8},{"s":"1.5","x":1.29,"y":20.75},{"s":"1.5","x":1.321,"y":20.7},{"s":"1.5","x":1.36,"y":20.45},{"s":"1.5","x":1.396,"y":20.2},{"s":"1.5","x":1.43,"y":20.05},{"s":"1.5","x":1.47,"y":19.9},{"s":"1.5","x":1.505,"y":19.7},{"s":"1.5","x":1.545,"y":19.5},{"s":"1.5","x":1.567,"y":19.3},{"s":"1.5","x":1.589,"y":19.1},{"s":"1.5","x":1.62,"y":18.95},{"s":"1.5","x":1.649,"y":18.8},{"s":"1.5","x":1.69,"y":18.55},{"s":"1.5","x":1.723,"y":18.3},{"s":"1.5","x":1.76,"y":18.05},{"s":"1.5","x":1.798,"y":17.8},{"s":"1.5","x":1.835,"y":17.65},{"s":"1.5","x":1.872,"y":17.5},{"s":"1.5","x":1.91,"y":17.4},{"s":"1.5","x":1.946,"y":17.3},{"s":"1.5","x":1.975,"y":17.15},{"s":"1.5","x":2.0,"y":17.0}
]
},
"columns": 2,
"bounds": "flush",
"spacing": {"row": 188, "column": 198},
"resolve": {"scale": {"color": "independent", "strokeWidth": "independent"}, "legend": {"color": "independent", "strokeWidth": "independent"}},
"concat": [
{
 "width": 823, "height": 476,
 "title": {"text": "(a) SF(H)", "orient": "bottom", "offset": 27, "frame": "bounds", "anchor": "middle"},
 "data": {"name": "a"},
 "layer": [
  {"mark": {"type": "line", "strokeJoin": "round"},
   "encoding": {
    "x": {"field": "x", "type": "quantitative", "scale": {"domain": [0, 2], "nice": false}, "axis": {"values": [0, 0.4, 0.8, 1.2, 1.6, 2], "format": "~g", "title": "Deflection\u00a0 (mm)", "labelPadding": 19, "titlePadding": 15, "gridColor": {"condition": {"test": "datum.value <= 0 || datum.value >= 2", "value": "transparent"}, "value": "#cfcfcf"}}},
    "y": {"field": "y", "type": "quantitative", "scale": {"domain": [0, 25], "nice": false}, "axis": {"values": [0, 5, 10, 15, 20, 25], "title": "Load (kN)", "titleFontSize": 28, "labelPadding": 21, "titlePadding": 32, "gridColor": {"condition": {"test": "datum.value <= 0 || datum.value >= 25", "value": "transparent"}, "value": "#cfcfcf"}}},
    "color": {"field": "s", "type": "nominal", "scale": {"domain": ["0.5", "1.0", "1.5"], "range": ["#d9d9d9", "#7f7f7f", "#000000"]}, "legend": {"title": null, "legendX": 63, "legendY": 400, "columnPadding": 30, "labelExpr": "'SF(H)-' + datum.label"}},
    "strokeWidth": {"field": "s", "type": "nominal", "scale": {"domain": ["0.5", "1.0", "1.5"], "range": [3.2, 3.2, 3.8]}, "legend": null}
   }},
  {"data": {"values": [{"x": 1.164, "y": 22.6, "t": "SF(H)-1.5"}, {"x": 1.075, "y": 15.2, "t": "SF(H)-1.0"}, {"x": 0.979, "y": 8.3, "t": "SF(H)-0.5"}]},
   "mark": {"type": "text", "font": "Liberation Serif", "fontSize": 27, "color": "#000000"},
   "encoding": {"x": {"field": "x", "type": "quantitative"}, "y": {"field": "y", "type": "quantitative"}, "text": {"field": "t"}}}
 ]
},
{
 "width": 823, "height": 476,
 "title": {"text": "(c) CSF(C)", "orient": "bottom", "offset": 27, "frame": "bounds", "anchor": "middle"},
 "data": {"name": "c"},
 "layer": [
  {"mark": {"type": "line", "strokeJoin": "round"},
   "encoding": {
    "x": {"field": "x", "type": "quantitative", "scale": {"domain": [0, 2], "nice": false}, "axis": {"values": [0, 0.4, 0.8, 1.2, 1.6, 2], "format": "~g", "title": "Deflection\u00a0 (mm)", "labelPadding": 19, "titlePadding": 15, "gridColor": {"condition": {"test": "datum.value <= 0 || datum.value >= 2", "value": "transparent"}, "value": "#cfcfcf"}}},
    "y": {"field": "y", "type": "quantitative", "scale": {"domain": [0, 25], "nice": false}, "axis": {"values": [0, 5, 10, 15, 20, 25], "title": "Load (kN)", "titleFontSize": 28, "labelPadding": 21, "titlePadding": 32, "gridColor": {"condition": {"test": "datum.value <= 0 || datum.value >= 25", "value": "transparent"}, "value": "#cfcfcf"}}},
    "color": {"field": "s", "type": "nominal", "scale": {"domain": ["0.5", "1.0", "1.5"], "range": ["#d9d9d9", "#7f7f7f", "#000000"]}, "legend": {"title": null, "legendX": 51, "legendY": 395, "columnPadding": 8, "labelExpr": "'CSF(C)-' + datum.label"}},
    "strokeWidth": {"field": "s", "type": "nominal", "scale": {"domain": ["0.5", "1.0", "1.5"], "range": [3.2, 3.2, 3.8]}, "legend": null}
   }},
  {"data": {"values": [{"x": 1.561, "y": 15.2, "x2": 1.463, "y2": 11.4}]},
   "mark": {"type": "rule", "color": "#000000", "strokeWidth": 1.5},
   "encoding": {"x": {"field": "x", "type": "quantitative"}, "y": {"field": "y", "type": "quantitative"}, "x2": {"field": "x2"}, "y2": {"field": "y2"}}},
  {"data": {"values": [{"x": 1.203, "y": 15.8, "t": "CSF(C)-0.5"}, {"x": 1.747, "y": 15.8, "t": "CSF(C)-1.0"}, {"x": 1.322, "y": 7.3, "t": "CSF(C)-1.5"}]},
   "mark": {"type": "text", "font": "Liberation Serif", "fontSize": 27, "color": "#000000"},
   "encoding": {"x": {"field": "x", "type": "quantitative"}, "y": {"field": "y", "type": "quantitative"}, "text": {"field": "t"}}}
 ]
},
{
 "width": 823, "height": 476,
 "title": {"text": "(b) CSF(S)", "orient": "bottom", "offset": 27, "frame": "bounds", "anchor": "middle"},
 "data": {"name": "b"},
 "layer": [
  {"mark": {"type": "line", "strokeJoin": "round"},
   "encoding": {
    "x": {"field": "x", "type": "quantitative", "scale": {"domain": [0, 2], "nice": false}, "axis": {"values": [0, 0.4, 0.8, 1.2, 1.6, 2], "format": "~g", "title": "Deflection\u00a0 (mm)", "labelPadding": 19, "titlePadding": 15, "gridColor": {"condition": {"test": "datum.value <= 0 || datum.value >= 2", "value": "transparent"}, "value": "#cfcfcf"}}},
    "y": {"field": "y", "type": "quantitative", "scale": {"domain": [0, 25], "nice": false}, "axis": {"values": [0, 5, 10, 15, 20, 25], "title": "Load (kN)", "titleFontSize": 27, "titleFontWeight": "bold", "labelPadding": 21, "titlePadding": 32, "gridColor": {"condition": {"test": "datum.value <= 0 || datum.value >= 25", "value": "transparent"}, "value": "#cfcfcf"}}},
    "color": {"field": "s", "type": "nominal", "scale": {"domain": ["0.5", "1.0", "1.5"], "range": ["#d9d9d9", "#7f7f7f", "#000000"]}, "legend": {"title": null, "legendX": 57, "legendY": 398, "columnPadding": 12, "labelExpr": "'CSF(S)-' + datum.label"}},
    "strokeWidth": {"field": "s", "type": "nominal", "scale": {"domain": ["0.5", "1.0", "1.5"], "range": [3.2, 3.2, 3.8]}, "legend": null}
   }},
  {"data": {"values": [{"x": 0.591, "y": 17.25, "t": "CSF(S)-1.5"}, {"x": 0.66, "y": 11.1, "t": "CSF(S)-0.5"}, {"x": 0.999, "y": 7.56, "t": "CSF(S)-1.0"}]},
   "mark": {"type": "text", "font": "Liberation Serif", "fontSize": 27, "color": "#000000"},
   "encoding": {"x": {"field": "x", "type": "quantitative"}, "y": {"field": "y", "type": "quantitative"}, "text": {"field": "t"}}}
 ]
},
{
 "width": 823, "height": 476,
 "title": {"text": "(d) CSF(H)", "orient": "bottom", "offset": 27, "frame": "bounds", "anchor": "middle"},
 "data": {"name": "d"},
 "layer": [
  {"mark": {"type": "line", "strokeJoin": "round"},
   "encoding": {
    "x": {"field": "x", "type": "quantitative", "scale": {"domain": [0, 2], "nice": false}, "axis": {"values": [0, 0.4, 0.8, 1.2, 1.6, 2], "format": "~g", "title": "Deflection\u00a0 (mm)", "labelPadding": 19, "titlePadding": 15, "gridColor": {"condition": {"test": "datum.value <= 0 || datum.value >= 2", "value": "transparent"}, "value": "#cfcfcf"}}},
    "y": {"field": "y", "type": "quantitative", "scale": {"domain": [0, 25], "nice": false}, "axis": {"values": [0, 5, 10, 15, 20, 25], "title": "Load (kN)", "titleFontSize": 27, "titleFontWeight": "bold", "labelPadding": 21, "titlePadding": 32, "gridColor": {"condition": {"test": "datum.value <= 0 || datum.value >= 25", "value": "transparent"}, "value": "#cfcfcf"}}},
    "color": {"field": "s", "type": "nominal", "scale": {"domain": ["0.5", "1.0", "1.5"], "range": ["#d9d9d9", "#7f7f7f", "#000000"]}, "legend": {"title": null, "legendX": 54, "legendY": 398, "columnPadding": 12, "labelExpr": "'CSF(H)-' + datum.label"}},
    "strokeWidth": {"field": "s", "type": "nominal", "scale": {"domain": ["0.5", "1.0", "1.5"], "range": [3.2, 3.2, 3.8]}, "legend": null}
   }},
  {"data": {"values": [{"x": 1.135, "y": 23.26, "x2": 1.031, "y2": 22.64}]},
   "mark": {"type": "rule", "color": "#000000", "strokeWidth": 1.5},
   "encoding": {"x": {"field": "x", "type": "quantitative"}, "y": {"field": "y", "type": "quantitative"}, "x2": {"field": "x2"}, "y2": {"field": "y2"}}},
  {"data": {"values": [{"x": 1.333, "y": 23.3, "t": "CSF(H)-1.5"}, {"x": 0.781, "y": 20.4, "t": "CSF(H)-1.0"}, {"x": 0.662, "y": 13.1, "t": "CSF(H)-0.5"}]},
   "mark": {"type": "text", "font": "Liberation Serif", "fontSize": 27, "color": "#000000"},
   "encoding": {"x": {"field": "x", "type": "quantitative"}, "y": {"field": "y", "type": "quantitative"}, "text": {"field": "t"}}}
 ]
}
]
}
